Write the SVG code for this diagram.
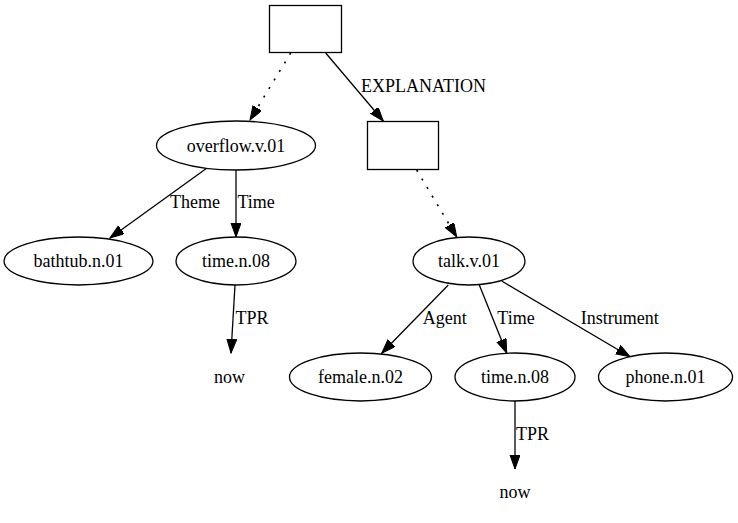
<svg xmlns="http://www.w3.org/2000/svg" width="738" height="523" viewBox="0 0 738 523">
<style>
.n{fill:#fff;stroke:#000;stroke-width:1.3}
.t{font-family:"Liberation Serif","Times New Roman",serif;font-size:18px;fill:#000}
.c{text-anchor:middle}
.e{fill:none;stroke:#000;stroke-width:1.3}
.d{stroke-dasharray:2,8;stroke-width:1.6}
</style>
<defs>
<marker id="ah" markerUnits="userSpaceOnUse" markerWidth="15" markerHeight="11" refX="14" refY="5" orient="auto">
<path d="M0,0 L14,5 L0,10 z" fill="#000" stroke="#000" stroke-width="1"/>
</marker>
</defs>
<rect width="738" height="523" fill="#fff"/>
<g id="edges">
<line class="e d" x1="290.7" y1="53" x2="250" y2="120" marker-end="url(#ah)"/>
<line class="e" x1="325.7" y1="53" x2="383.3" y2="121" marker-end="url(#ah)"/>
<text class="t" x="361" y="92">EXPLANATION</text>
<line class="e d" x1="416.7" y1="170" x2="456.7" y2="237" marker-end="url(#ah)"/>
<line class="e" x1="206.7" y1="168.3" x2="110" y2="238" marker-end="url(#ah)"/>
<text class="t" x="170" y="208">Theme</text>
<line class="e" x1="236" y1="170" x2="236" y2="237" marker-end="url(#ah)"/>
<text class="t" x="237.5" y="208">Time</text>
<line class="e" x1="235" y1="285" x2="231" y2="353" marker-end="url(#ah)"/>
<text class="t" x="235.5" y="324">TPR</text>
<line class="e" x1="448.3" y1="285" x2="381.7" y2="353.3" marker-end="url(#ah)"/>
<text class="t" x="422.7" y="324">Agent</text>
<line class="e" x1="479.3" y1="285" x2="506.7" y2="353" marker-end="url(#ah)"/>
<text class="t" x="497.3" y="324">Time</text>
<line class="e" x1="501.7" y1="281" x2="630" y2="356.7" marker-end="url(#ah)"/>
<text class="t" x="580.7" y="324">Instrument</text>
<line class="e" x1="515" y1="401" x2="515" y2="469" marker-end="url(#ah)"/>
<text class="t" x="516" y="440">TPR</text>
</g>
<g id="box1"><rect class="n" x="269.5" y="5.5" width="72" height="47"/></g>
<g id="box2"><rect class="n" x="367.5" y="121.5" width="71" height="48"/></g>
<g id="overflow"><ellipse class="n" cx="236" cy="145.5" rx="79.5" ry="24.5"/><text class="t c" x="236" y="151.5">overflow.v.01</text></g>
<g id="bathtub"><ellipse class="n" cx="78.5" cy="261" rx="74.5" ry="24"/><text class="t c" x="78.5" y="267">bathtub.n.01</text></g>
<g id="time1"><ellipse class="n" cx="236" cy="261" rx="60" ry="24"/><text class="t c" x="236" y="267">time.n.08</text></g>
<g id="now1"><text class="t c" x="229.5" y="383">now</text></g>
<g id="talk"><ellipse class="n" cx="469" cy="261" rx="56" ry="24"/><text class="t c" x="469" y="267">talk.v.01</text></g>
<g id="female"><ellipse class="n" cx="360.5" cy="377" rx="71" ry="24"/><text class="t c" x="360.5" y="383">female.n.02</text></g>
<g id="time2"><ellipse class="n" cx="515" cy="377" rx="60" ry="24"/><text class="t c" x="515" y="383">time.n.08</text></g>
<g id="phone"><ellipse class="n" cx="665.5" cy="377" rx="67" ry="24"/><text class="t c" x="665.5" y="383">phone.n.01</text></g>
<g id="now2"><text class="t c" x="515" y="498">now</text></g>
</svg>
